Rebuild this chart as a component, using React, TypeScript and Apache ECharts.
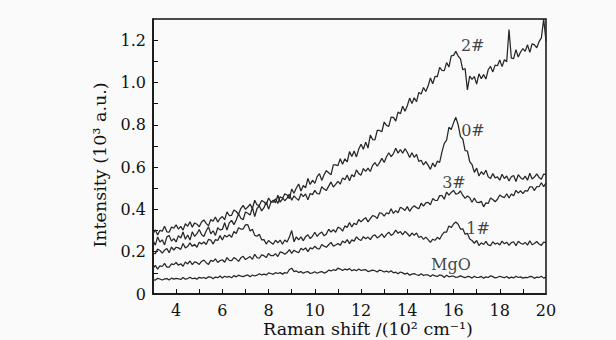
import { useEffect, useRef } from 'react';
import * as echarts from 'echarts';

// Raman shift (10^2 cm^-1)
const ramanShift = [
  3.0, 3.1, 3.2, 3.3, 3.4, 3.5, 3.6, 3.7, 3.8, 3.9,
  4.0, 4.1, 4.2, 4.3, 4.4, 4.5, 4.6, 4.7, 4.8, 4.9,
  5.0, 5.1, 5.2, 5.3, 5.4, 5.5, 5.6, 5.7, 5.8, 5.9,
  6.0, 6.1, 6.2, 6.3, 6.4, 6.5, 6.6, 6.7, 6.8, 6.9,
  7.0, 7.1, 7.2, 7.3, 7.4, 7.5, 7.6, 7.7, 7.8, 7.9,
  8.0, 8.1, 8.2, 8.3, 8.4, 8.5, 8.6, 8.7, 8.8, 8.9,
  9.0, 9.1, 9.2, 9.3, 9.4, 9.5, 9.6, 9.7, 9.8, 9.9,
  10.0, 10.1, 10.2, 10.3, 10.4, 10.5, 10.6, 10.7, 10.8, 10.9,
  11.0, 11.1, 11.2, 11.3, 11.4, 11.5, 11.6, 11.7, 11.8, 11.9,
  12.0, 12.1, 12.2, 12.3, 12.4, 12.5, 12.6, 12.7, 12.8, 12.9,
  13.0, 13.1, 13.2, 13.3, 13.4, 13.5, 13.6, 13.7, 13.8, 13.9,
  14.0, 14.1, 14.2, 14.3, 14.4, 14.5, 14.6, 14.7, 14.8, 14.9,
  15.0, 15.1, 15.2, 15.3, 15.4, 15.5, 15.6, 15.7, 15.8, 15.9,
  16.0, 16.1, 16.2, 16.3, 16.4, 16.5, 16.6, 16.7, 16.8, 16.9,
  17.0, 17.1, 17.2, 17.3, 17.4, 17.5, 17.6, 17.7, 17.8, 17.9,
  18.0, 18.1, 18.2, 18.3, 18.4, 18.5, 18.6, 18.7, 18.8, 18.9,
  19.0, 19.1, 19.2, 19.3, 19.4, 19.5, 19.6, 19.7, 19.8, 19.9,
  20.0,
];

// Intensities in a.u. (the axis shows 10^3 a.u.)
const intensityMgO = [
  67, 66, 74, 71, 66, 71, 73, 66, 75, 70,
  74, 72, 69, 78, 70, 73, 79, 72, 75, 70,
  79, 75, 78, 73, 81, 80, 72, 80, 77, 85,
  76, 84, 80, 83, 77, 87, 81, 89, 84, 82,
  87, 90, 82, 90, 85, 89, 96, 90, 94, 90,
  100, 97, 93, 101, 97, 101, 94, 101, 98, 116,
  122, 106, 109, 102, 106, 98, 104, 106, 97, 100,
  105, 98, 103, 106, 99, 103, 113, 109, 115, 111,
  122, 118, 111, 118, 114, 120, 110, 115, 110, 118,
  111, 114, 115, 106, 109, 113, 110, 104, 113, 110,
  104, 108, 103, 110, 100, 103, 96, 104, 100, 94,
  99, 89, 94, 96, 91, 88, 96, 88, 91, 90,
  83, 91, 86, 83, 90, 87, 78, 89, 81, 84,
  85, 78, 81, 86, 81, 77, 83, 82, 75, 84,
  78, 79, 83, 75, 81, 78, 86, 82, 76, 79,
  84, 80, 77, 83, 74, 80, 76, 84, 78, 81,
  75, 79, 77, 83, 82, 74, 80, 78, 84, 75,
  80,
];

const intensity1 = [
  121, 135, 118, 133, 130, 145, 127, 127, 142, 139,
  149, 136, 143, 131, 151, 142, 156, 139, 152, 148,
  140, 154, 160, 148, 140, 159, 154, 166, 149, 158,
  162, 150, 172, 159, 158, 172, 165, 154, 171, 178,
  163, 170, 177, 164, 188, 172, 169, 185, 181, 172,
  192, 181, 181, 191, 177, 199, 196, 188, 196, 210,
  192, 207, 200, 195, 216, 208, 218, 200, 218, 213,
  226, 215, 213, 234, 226, 221, 233, 244, 226, 232,
  239, 230, 250, 242, 257, 238, 256, 250, 270, 259,
  253, 271, 261, 269, 257, 274, 280, 265, 273, 284,
  267, 282, 292, 277, 285, 302, 287, 295, 280, 296,
  286, 272, 288, 278, 288, 267, 273, 258, 269, 257,
  244, 259, 254, 268, 259, 279, 293, 293, 322, 314,
  331, 340, 330, 307, 308, 282, 287, 260, 253, 240,
  253, 229, 242, 234, 249, 232, 229, 247, 236, 241,
  232, 250, 237, 245, 230, 243, 247, 228, 249, 240,
  235, 244, 231, 252, 233, 239, 248, 236, 230, 245,
  243,
];

const intensity3 = [
  192, 191, 212, 206, 193, 207, 215, 195, 222, 208,
  221, 218, 211, 239, 218, 225, 242, 225, 235, 221,
  245, 236, 246, 234, 258, 255, 236, 257, 253, 276,
  255, 278, 270, 280, 268, 295, 286, 313, 307, 307,
  327, 328, 298, 306, 277, 273, 282, 256, 257, 236,
  253, 243, 235, 254, 242, 255, 235, 255, 246, 269,
  300, 247, 270, 256, 270, 252, 271, 280, 262, 273,
  292, 272, 285, 293, 275, 284, 306, 293, 304, 292,
  316, 311, 297, 322, 315, 338, 317, 335, 327, 352,
  341, 352, 361, 341, 356, 371, 367, 357, 384, 381,
  368, 384, 379, 403, 381, 394, 384, 410, 404, 395,
  413, 391, 407, 417, 408, 403, 429, 415, 431, 433,
  422, 451, 443, 442, 465, 465, 448, 482, 467, 480,
  490, 472, 475, 487, 467, 452, 463, 455, 434, 454,
  434, 432, 438, 412, 431, 428, 454, 447, 436, 448,
  468, 460, 456, 474, 454, 473, 465, 490, 477, 488,
  474, 489, 486, 507, 507, 489, 508, 507, 526, 507,
  525,
];

const intensity0 = [
  284, 304, 279, 301, 297, 320, 294, 292, 317, 311,
  327, 307, 320, 302, 332, 320, 342, 316, 336, 330,
  318, 340, 350, 334, 322, 352, 344, 364, 340, 357,
  366, 351, 388, 371, 372, 397, 390, 377, 404, 419,
  400, 411, 425, 404, 443, 421, 418, 442, 436, 422,
  454, 436, 434, 450, 428, 460, 454, 441, 453, 472,
  443, 464, 452, 443, 474, 460, 473, 445, 475, 470,
  490, 475, 473, 507, 496, 490, 510, 530, 506, 518,
  532, 519, 549, 540, 562, 535, 564, 554, 587, 569,
  562, 593, 580, 595, 579, 608, 621, 604, 621, 641,
  622, 649, 668, 649, 664, 689, 666, 683, 666, 687,
  670, 645, 668, 646, 660, 626, 632, 610, 626, 609,
  589, 619, 601, 628, 622, 672, 712, 727, 788, 778,
  809, 835, 800, 744, 733, 678, 676, 626, 612, 575,
  595, 558, 578, 565, 585, 554, 546, 569, 549, 554,
  538, 566, 546, 558, 534, 554, 560, 532, 564, 550,
  542, 557, 538, 571, 544, 553, 568, 551, 542, 567,
  564,
];

const intensity2 = [
  253, 231, 270, 246, 256, 232, 270, 277, 250, 262,
  246, 276, 265, 293, 259, 279, 255, 294, 272, 285,
  305, 281, 272, 298, 318, 284, 299, 277, 313, 303,
  305, 337, 302, 336, 348, 328, 350, 379, 358, 351,
  388, 382, 373, 409, 366, 404, 416, 393, 408, 435,
  401, 433, 443, 431, 467, 434, 450, 474, 468, 451,
  496, 476, 501, 520, 487, 513, 502, 546, 518, 538,
  523, 555, 569, 537, 564, 583, 573, 563, 610, 610,
  607, 639, 613, 639, 624, 673, 650, 676, 648, 685,
  708, 684, 718, 690, 751, 730, 729, 773, 773, 767,
  813, 797, 792, 836, 835, 817, 860, 852, 888, 864,
  890, 926, 900, 928, 909, 953, 945, 976, 957, 983,
  1021, 994, 1029, 1028, 1071, 1057, 1056, 1094, 1073, 1126,
  1128, 1147, 1125, 1111, 1060, 1066, 965, 1030, 1015, 1028,
  992, 1041, 1018, 1037, 1016, 1060, 1076, 1050, 1082, 1079,
  1106, 1075, 1107, 1098, 1250, 1115, 1113, 1155, 1120, 1144,
  1160, 1147, 1178, 1142, 1183, 1178, 1164, 1193, 1211, 1300,
  1195,
];

const sampleNames = ['MgO', '1#', '3#', '0#', '2#'];
// Annotation anchor for each sample label (Raman shift, intensity in a.u.)
const labelShift = [15.89, 17.06, 16.02, 16.84, 16.83];
const labelIntensity = [141, 308, 525, 775, 1177];

const xLabelValues = [4, 6, 8, 10, 12, 14, 16, 18, 20];
const xTickValues = [4, 5, 6, 7, 8, 9, 10, 11, 12, 13, 14, 15, 16, 17, 18, 19];
const yLabelValues = [0, 0.2, 0.4, 0.6, 0.8, 1.0, 1.2];
const yTickValues = [0.1, 0.2, 0.3, 0.4, 0.5, 0.6, 0.7, 0.8, 0.9, 1.0, 1.1, 1.2];

export default function App() {
  const ref = useRef<HTMLDivElement>(null);

  useEffect(() => {
    if (!ref.current) return;
    const chart = echarts.init(ref.current, null, { renderer: 'svg' });
    const font = '"DejaVu Serif", serif';
    const ink = '#111111';
    const allSeries = [intensityMgO, intensity1, intensity3, intensity0, intensity2];

    const lineSeries = allSeries.map((ys, k) => ({
      name: sampleNames[k],
      type: 'line',
      data: ramanShift.map((x, i) => [x, ys[i] / 1000]),
      showSymbol: false,
      symbol: 'none',
      silent: true,
      lineStyle: { color: '#262626', width: 1.25 },
      z: 2,
    }));

    chart.setOption({
      animation: false,
      backgroundColor: '#fafafa',
      grid: {
        left: 153,
        right: 70,
        top: 19,
        bottom: 46,
        show: true,
        borderColor: ink,
        borderWidth: 1.5,
        backgroundColor: 'transparent',
      },
      xAxis: {
        type: 'value',
        min: 3,
        max: 20,
        axisLine: { show: true, onZero: false, lineStyle: { color: ink, width: 1.5 } },
        axisTick: {
          show: true,
          inside: true,
          length: 5,
          customValues: xTickValues,
          lineStyle: { color: ink, width: 1 },
        },
        axisLabel: {
          customValues: xLabelValues,
          margin: 8,
          color: ink,
          fontFamily: font,
          fontSize: 16,
        },
        splitLine: { show: false },
      },
      yAxis: {
        type: 'value',
        min: 0,
        max: 1.3,
        axisLine: { show: true, lineStyle: { color: ink, width: 1.5 } },
        axisTick: {
          show: true,
          inside: true,
          length: 5,
          customValues: yTickValues,
          lineStyle: { color: ink, width: 1 },
        },
        axisLabel: {
          customValues: yLabelValues,
          margin: 7,
          color: ink,
          fontFamily: font,
          fontSize: 16,
          formatter: (v: number) => (v === 0 ? '0' : v.toFixed(1)),
        },
        splitLine: { show: false },
      },
      series: [
        ...lineSeries,
        {
          type: 'scatter',
          silent: true,
          symbolSize: 1,
          itemStyle: { color: 'rgba(0,0,0,0)' },
          data: sampleNames.map((n, i) => ({ name: n, value: [labelShift[i], labelIntensity[i] / 1000] })),
          label: {
            show: true,
            position: 'inside',
            formatter: '{b}',
            fontFamily: font,
            fontSize: 16,
            color: ink,
          },
          z: 5,
        },
      ],
      graphic: [
        {
          type: 'text',
          x: 368,
          y: 329,
          style: {
            text: 'Raman shift /(10² cm⁻¹)',
            font: `17.5px ${font}`,
            fill: ink,
            align: 'center',
            verticalAlign: 'middle',
          },
        },
        {
          type: 'text',
          x: 100,
          y: 165,
          rotation: Math.PI / 2,
          style: {
            text: 'Intensity (10³ a.u.)',
            font: `17.5px ${font}`,
            fill: ink,
            align: 'center',
            verticalAlign: 'middle',
          },
        },
      ],
    });

    return () => chart.dispose();
  }, []);

  return (
    <div
      ref={ref}
      style={{ position: 'fixed', left: 0, top: 0, width: 616, height: 340, background: '#fafafa' }}
    />
  );
}
